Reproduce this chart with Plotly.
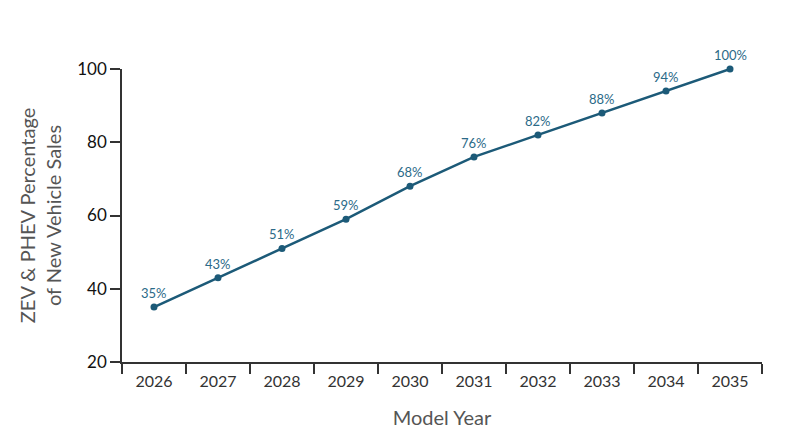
import plotly.graph_objects as go

years = ["2026", "2027", "2028", "2029", "2030", "2031", "2032", "2033", "2034", "2035"]
values = [35, 43, 51, 59, 68, 76, 82, 88, 94, 100]
labels = [f"{v}%" for v in values]

line_color = "#1c5a78"
font_fam = "Lato, 'Open Sans', sans-serif"

fig = go.Figure(go.Scatter(
    x=years, y=values, mode="lines+markers",
    line=dict(color=line_color, width=2.5),
    marker=dict(color=line_color, size=7),
    cliponaxis=False, hoverinfo="skip"
))

for i, (v, lab) in enumerate(zip(values, labels)):
    fig.add_annotation(
        x=i, y=v, text=lab, showarrow=False,
        yanchor="bottom", yshift=4,
        font=dict(family=font_fam, size=13, color="#2b6a88"),
    )

fig.update_layout(
    width=802, height=440,
    margin=dict(l=114, r=48, t=61, b=86),
    paper_bgcolor="white", plot_bgcolor="white",
    showlegend=False,
    font=dict(family=font_fam),
    xaxis=dict(
        type="category", range=[-0.5, 9.5],
        showline=True, linecolor="#333", linewidth=1.5,
        ticks="outside", tickson="boundaries", ticklen=10, tickcolor="#333", tickwidth=1.5,
        tickfont=dict(size=16, color="#333"), ticklabelstandoff=4,
        showgrid=False, zeroline=False,
        title=dict(text="Model Year", font=dict(size=20, color="#555"), standoff=22),
    ),
    yaxis=dict(
        range=[20, 100], tickvals=[20, 40, 60, 80, 100],
        showline=True, linecolor="#333", linewidth=1.5,
        ticks="outside", ticklen=10, tickcolor="#333", tickwidth=1.5,
        tickfont=dict(size=17, color="#111"),
        showgrid=False, zeroline=False,
        title=dict(text="ZEV & PHEV Percentage<br>of New Vehicle Sales", font=dict(size=20, color="#555"), standoff=10),
    ),
)

fig.write_html("out.html")
